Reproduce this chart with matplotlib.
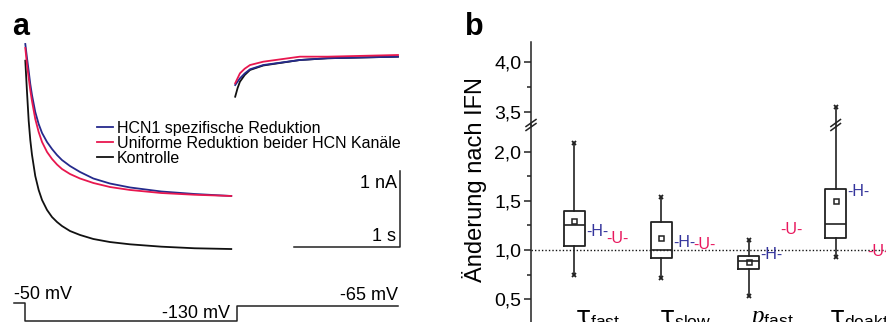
import matplotlib
matplotlib.use('Agg')
import matplotlib.pyplot as plt
from matplotlib.ticker import FixedLocator, FuncFormatter
from matplotlib.transforms import blended_transform_factory

plt.rcParams['font.family'] = ['Liberation Sans', 'DejaVu Sans']
plt.rcParams['mathtext.fontset'] = 'custom'
plt.rcParams['mathtext.rm'] = 'DejaVu Sans'
plt.rcParams['mathtext.it'] = 'Liberation Serif:italic'
plt.rcParams['mathtext.sf'] = 'Liberation Sans'

# ---------------- Panel a data (time in s, current in nA) ----------------
t_step = [0, 0.016, 0.032, 0.047, 0.063, 0.094, 0.126, 0.158, 0.205, 0.252,
          0.299, 0.346, 0.422, 0.516, 0.642, 0.799, 0.988, 1.283, 1.598, 1.943]
i_blue = [0.145, -0.039, -0.211, -0.382, -0.526, -0.750, -0.908, -1.026, -1.145, -1.237,
          -1.316, -1.382, -1.461, -1.539, -1.625, -1.691, -1.743, -1.796, -1.829, -1.855]
i_red = [0.092, -0.128, -0.303, -0.461, -0.605, -0.842, -1.013, -1.145, -1.276, -1.368,
         -1.441, -1.500, -1.566, -1.625, -1.684, -1.737, -1.776, -1.816, -1.839, -1.855]
i_black = [-0.075, -0.487, -0.868, -1.118, -1.312, -1.592, -1.776, -1.908, -2.039, -2.132,
           -2.197, -2.250, -2.316, -2.368, -2.421, -2.461, -2.491, -2.522, -2.543, -2.553]

tt_red = [1.98, 2.025, 2.07, 2.12, 2.245, 2.59, 2.85, 3.516]
it_red = [-0.372, -0.241, -0.18, -0.132, -0.088, -0.022, -0.022, 0.0]
tt_blue = [1.98, 2.025, 2.07, 2.12, 2.245, 2.59, 2.85, 3.516]
it_blue = [-0.395, -0.307, -0.243, -0.188, -0.132, -0.066, -0.043, -0.022]
tt_black = [1.98, 2.003, 2.025, 2.07, 2.12, 2.245, 2.59, 2.85, 3.516]
it_black = [-0.549, -0.434, -0.351, -0.263, -0.197, -0.138, -0.066, -0.043, -0.022]

legend_labels = ['HCN1 spezifische Reduktion',
                 'Uniforme Reduktion beider HCN Kanäle',
                 'Kontrolle']

# voltage protocol
t_prot = [-0.107, 0.0, 0.0, 2.0, 2.0, 3.516]
v_prot = [-50, -50, -130, -130, -65, -65]

# ---------------- Panel b data ----------------
categories = [r'$\mathrm{\tau}_{\mathsf{fast}}$', r'$\mathrm{\tau}_{\mathsf{slow}}$',
              r'$p_{\mathsf{fast}}$', r'$\mathrm{\tau}_{\mathsf{deakt}}$']
q1 = [1.04, 0.915, 0.807, 1.118]
med = [1.25, 1.00, 0.89, 1.26]
q3 = [1.40, 1.284, 0.94, 1.625]
whislo = [0.746, 0.72, 0.537, 0.929]
whishi = [2.085, 1.543, 1.107, 3.555]
means = [1.30, 1.118, 0.874, 1.497]
H_vals = [1.19, 1.077, 0.96, 1.60]
U_vals = [1.12, 1.06, 1.206, 0.986]

W, Hh = 887, 322
fig = plt.figure(figsize=(W / 100, Hh / 100), dpi=100)


def fx(px):
    return px / W


def fy(py):
    return 1 - py / Hh


# ---------------- Panel a ----------------
PXS, PXA, X0, Y0 = 106.0, 76.0, 25.3, 55.0
ax_a = fig.add_axes([0, 0, fx(445), 1])
ax_a.set_xlim(-X0 / PXS, (445 - X0) / PXS)
ax_a.set_ylim((Y0 - Hh) / PXA, Y0 / PXA)
ax_a.axis('off')

c_blue, c_red, c_black = '#252a8c', '#e8174f', '#111111'
lk, = ax_a.plot(t_step, i_black, color=c_black, lw=1.3, zorder=2)
ax_a.plot(tt_black, it_black, color=c_black, lw=1.3, zorder=2)
lb, = ax_a.plot(t_step, i_blue, color=c_blue, lw=1.3, zorder=3)
ax_a.plot(tt_blue, it_blue, color=c_blue, lw=1.3, zorder=3)
lr, = ax_a.plot(t_step, i_red, color=c_red, lw=1.3, zorder=4)
ax_a.plot(tt_red, it_red, color=c_red, lw=1.3, zorder=4)

leg = ax_a.legend([lb, lr, lk], legend_labels, loc='upper left',
                  bbox_to_anchor=(fx(97), fy(121)), bbox_transform=fig.transFigure,
                  frameon=False, fontsize=11.5, handlelength=1.0, handletextpad=0.25,
                  labelspacing=0.0, borderpad=0, borderaxespad=0)

# scale bar: 1 s, 1 nA
sb_t, sb_i = 3.535, -2.526
ax_a.plot([sb_t - 1, sb_t, sb_t], [sb_i, sb_i, sb_i + 1], color='#222222', lw=1.1)
ax_a.text(sb_t - 0.03, sb_i + 0.84, '1 nA', ha='right', va='center', fontsize=13)
ax_a.text(sb_t - 0.04, sb_i + 0.14, '1 s', ha='right', va='center', fontsize=13)

# voltage protocol axes
ax_v = fig.add_axes([0, 0, fx(445), 1])
ax_v.set_xlim(ax_a.get_xlim())
mvpx = 80 / 18.0
ax_v.set_ylim(-130 - 1 * mvpx, -130 + 321 * mvpx)
ax_v.axis('off')
ax_v.plot(t_prot, v_prot, color='#222222', lw=1.1)
ax_v.annotate('-50 mV', (t_prot[0], v_prot[0]), xytext=(0, 3), textcoords='offset points',
              ha='left', va='baseline', fontsize=13)
ax_v.annotate('-130 mV', (t_prot[3], v_prot[3]), xytext=(-5, 2.5), textcoords='offset points',
              ha='right', va='baseline', fontsize=13)
ax_v.annotate('-65 mV', (t_prot[-1], v_prot[-1]), xytext=(0, 4.5), textcoords='offset points',
              ha='right', va='baseline', fontsize=13)

fig.text(fx(12), fy(35), 'a', fontweight='bold', fontsize=22, va='baseline', ha='left')
fig.text(fx(465), fy(35), 'b', fontweight='bold', fontsize=22, va='baseline', ha='left')

# ---------------- Panel b ----------------
pos = [1, 2, 3, 4]
stats = [dict(med=med[k], q1=q1[k], q3=q3[k], whislo=whislo[k], whishi=whishi[k],
              mean=means[k], fliers=[]) for k in range(4)]
axL = fig.add_axes([fx(531), 0, 1 - fx(531), fy(125)])
axU = fig.add_axes([fx(531), fy(125), 1 - fx(531), fy(42) - fy(125)])
ec = '#222222'
for ax in (axL, axU):
    ax.bxp(stats, positions=pos, widths=0.24, showcaps=False, showfliers=False,
           showmeans=False, patch_artist=False,
           boxprops=dict(color=ec, lw=1.3), whiskerprops=dict(color=ec, lw=1.2),
           medianprops=dict(color=ec, lw=1.2))
    ax.plot(pos, whislo, 'x', color=ec, ms=3.5, mew=1.3)
    ax.plot(pos, whishi, 'x', color=ec, ms=3.5, mew=1.3)
    ax.plot(pos, means, 's', mfc='white', mec=ec, ms=3.6, mew=1.1)
    ax.set_xlim(0.503, 4.589)
    for s in ('top', 'right', 'bottom'):
        ax.spines[s].set_visible(False)
    ax.spines['left'].set_color(ec)
    ax.spines['left'].set_linewidth(1.1)
    ax.set_xticks([])
    ax.tick_params(axis='y', which='both', direction='out', color=ec, width=1.1, labelsize=14, pad=2)
    ax.tick_params(axis='y', which='major', length=5)
    ax.tick_params(axis='y', which='minor', length=3)
    ax.yaxis.set_major_formatter(FuncFormatter(lambda v, p: f'{v:.1f}'.replace('.', ',')))
    ax.patch.set_alpha(0)

axL.set_ylim(0.269, 2.271)
axU.set_ylim(3.375, 4.195)
axL.yaxis.set_major_locator(FixedLocator([0.5, 1.0, 1.5, 2.0]))
axL.yaxis.set_minor_locator(FixedLocator([0.75, 1.25, 1.75]))
axU.yaxis.set_major_locator(FixedLocator([3.5, 4.0]))
axU.yaxis.set_minor_locator(FixedLocator([3.75]))

axL.axhline(1.0, color='#111111', lw=1.0, ls=(0, (1, 1.5)), zorder=1)

for k in range(4):
    axL.text(pos[k] + 0.26, H_vals[k], '-H-', color='#34349c', fontsize=11.5,
             ha='center', va='center')
    axL.text(pos[k] + 0.49, U_vals[k], '-U-', color='#e8175d', fontsize=11.5,
             ha='center', va='center')
    axL.text(pos[k] + 0.27, 0.43, categories[k], ha='center', va='top', fontsize=18,
             clip_on=False)

# break marks on y-axis and on the tall whisker
trL = axL.transAxes
hL = fy(125) * Hh  # px height of lower axes
for dy in (-2.0, 2.0):
    axL.plot([-5 / (W * (1 - fx(531))), 5 / (W * (1 - fx(531)))],
             [1 + (dy - 3.5) / hL, 1 + (dy + 3.5) / hL], transform=trL, color=ec,
             lw=1.1, clip_on=False)
bt = blended_transform_factory(axL.transData, axL.transAxes)
for dy in (-2.0, 2.0):
    axL.plot([pos[3] - 0.055, pos[3] + 0.055],
             [1 + (dy - 3.5) / hL, 1 + (dy + 3.5) / hL], transform=bt, color=ec,
             lw=1.1, clip_on=False)

fig.text(fx(475), fy(180), 'Änderung nach IFN', rotation=90, ha='center', va='center',
         fontsize=17)

fig.savefig('out.png', dpi=100)
